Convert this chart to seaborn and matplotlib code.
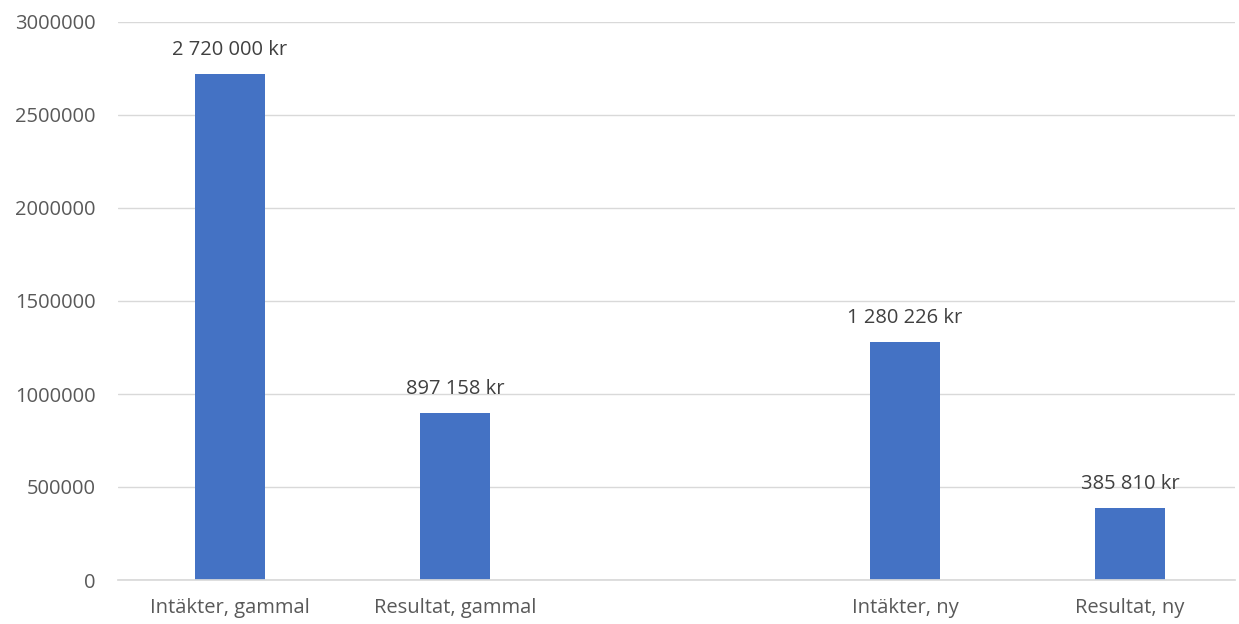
import matplotlib
matplotlib.use("Agg")
import matplotlib.pyplot as plt
import seaborn as sns
import pandas as pd

# --- data ---
categories = ["Intäkter, gammal", "Resultat, gammal", " ", "Intäkter, ny", "Resultat, ny"]
bar_labels = ["Intäkter, gammal", "Resultat, gammal", "Intäkter, ny", "Resultat, ny"]
values = [2720000, 897158, 1280226, 385810]
value_texts = ["2 720 000 kr", "897 158 kr", "1 280 226 kr", "385 810 kr"]

df = pd.DataFrame({"Kategori": bar_labels, "Belopp": values})

sns.set_theme(style="white")
plt.rcParams["font.family"] = ["Open Sans", "DejaVu Sans"]

fig = plt.figure(figsize=(12.39, 6.24), dpi=100)
ax = fig.add_axes([118 / 1239, 1 - 580 / 624, (1235 - 118) / 1239, (580 - 22) / 624])

sns.barplot(data=df, x="Kategori", y="Belopp", order=categories,
            color="#4472C4", width=0.315, saturation=1, linewidth=0, ax=ax)

ax.set_xlim(-0.498, 4.467)
ax.set_ylim(0, 3000000)
ax.set_yticks(range(0, 3000001, 500000))
ax.set_yticklabels([str(v) for v in range(0, 3000001, 500000)])
ax.grid(axis="y", color="#d9d9d9", linewidth=1)
ax.set_axisbelow(True)
for s in ["top", "right", "left"]:
    ax.spines[s].set_visible(False)
ax.spines["bottom"].set_color("#d9d9d9")
ax.tick_params(axis="both", length=0, labelsize=14.5, colors="#595959")
ax.tick_params(axis="y", pad=16)
ax.tick_params(axis="x", pad=13)
ax.set_xlabel("")
ax.set_ylabel("")

ax.bar_label(ax.containers[0], labels=value_texts, padding=10,
             fontsize=14.5, color="#404040")

fig.savefig("out.png", dpi=100)
